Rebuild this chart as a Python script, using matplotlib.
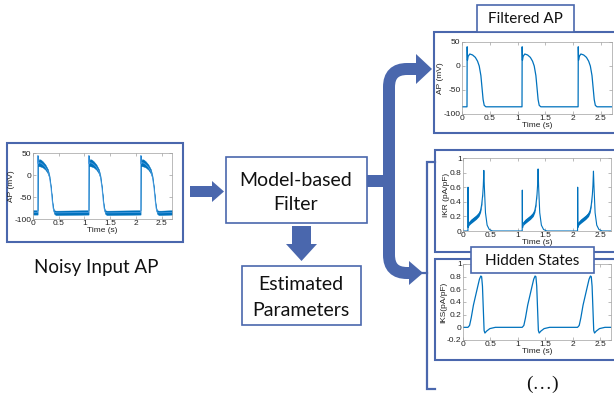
import matplotlib
matplotlib.use("Agg")
import matplotlib.pyplot as plt
from matplotlib.patches import Rectangle, Polygon, PathPatch
from matplotlib.path import Path

plt.rcParams['axes.unicode_minus'] = False

W, H = 614, 398
BLUE = '#4A67AD'
TRACE = '#0072BD'
TXT_FONT = ['Lato', 'DejaVu Sans']
PLOT_FONT = ['Liberation Sans', 'DejaVu Sans']
PFS = 6

# ---------------- data ----------------
beat_onsets = [0.09, 1.08, 2.09]
t_end = 2.7
x_ticks = [0, 0.5, 1, 1.5, 2, 2.5]
x_ticklabels = ['0', '0.5', '1', '1.5', '2', '2.5']

ap_rest = -85
ap_yticks = [-100, -50, 0, 50]

# filtered AP, one beat: time after onset (s), voltage (mV)
fap_dt = [0, 0.003, 0.008, 0.02, 0.05, 0.10, 0.15, 0.19, 0.22, 0.25, 0.27, 0.29, 0.31, 0.34, 0.40]
fap_v = [-85, 40, 12, 20, 25, 23, 18, 10, 0, -20, -45, -70, -82, -85, -85]

# noisy AP, one beat: centre of the trace and half-width of its noise band (mV)
nap_dt = [0, 0.003, 0.01, 0.03, 0.06, 0.10, 0.15, 0.20, 0.23, 0.26, 0.28, 0.30, 0.32, 0.35, 0.40]
nap_mid = [-85, 44, 26, 28, 27, 24, 18, 8, -5, -30, -55, -75, -84, -86, -86]
nap_hw = [5, 1, 6, 8, 8, 7, 6, 5, 4, 3, 3, 3, 4, 5, 5]
nap_rest_hw = 5

# IKR, one beat (pA/pF); spike and peak differ per beat
ikr_dt = [0, 0.002, 0.006, 0.015, 0.05, 0.10, 0.15, 0.20, 0.23, 0.25, 0.27, 0.28, 0.29, 0.30, 0.32, 0.35, 0.39, 0.45]
ikr_v = [0, None, 0.05, 0.10, 0.13, 0.16, 0.19, 0.23, 0.28, 0.36, 0.50, 0.62, None, 0.60, 0.25, 0.08, 0.02, 0]
ikr_hw = [0, 0, 0.01, 0.025, 0.03, 0.03, 0.03, 0.03, 0.025, 0.02, 0.01, 0.005, 0, 0, 0, 0, 0, 0]
ikr_spike = [0.60, 0.56, 0.60]
ikr_peak = [0.83, 0.85, 0.82]
ikr_yticks = [0, 0.2, 0.4, 0.6, 0.8, 1]
ikr_yticklabels = ['0', '0.2', '0.4', '0.6', '0.8', '1']

# IKS, one beat (pA/pF)
iks_dt = [0, 0.03, 0.06, 0.10, 0.14, 0.18, 0.21, 0.235, 0.25, 0.265, 0.28, 0.295, 0.31, 0.34, 0.40, 0.50]
iks_v = [0, 0.03, 0.15, 0.35, 0.50, 0.65, 0.76, 0.81, 0.80, 0.65, 0.30, -0.05, -0.09, -0.06, -0.02, 0]
iks_yticks = [-0.2, 0, 0.2, 0.4, 0.6, 0.8, 1]
iks_yticklabels = ['-0.2', '0', '0.2', '0.4', '0.6', '0.8', '1']


def build(dt, vals, rest):
    t, v = [0.0], [rest]
    for k, on in enumerate(beat_onsets):
        vv = vals[k] if isinstance(vals[0], list) else vals
        t += [on + d for d in dt]
        v += list(vv)
    t.append(t_end)
    v.append(rest)
    return t, v


# ---------------- figure ----------------
fig = plt.figure(figsize=(W / 100, H / 100), dpi=100)
bg = fig.add_axes([0, 0, 1, 1], zorder=0)
bg.set_xlim(0, W)
bg.set_ylim(H, 0)
bg.axis('off')
top = fig.add_axes([0, 0, 1, 1], zorder=3)
top.set_xlim(0, W)
top.set_ylim(H, 0)
top.axis('off')
top.patch.set_alpha(0)


def px_axes(x0, y0, x1, y1):
    return fig.add_axes([x0 / W, 1 - y1 / H, (x1 - x0) / W, (y1 - y0) / H], zorder=1)


def frame(ax, x0, y0, x1, y1, lw=1.5, z=1):
    ax.add_patch(Rectangle((x0, y0), x1 - x0, y1 - y0, facecolor='white',
                           edgecolor=BLUE, lw=lw, zorder=z))


def style(ax, ylim, yticks, yticklabels, ylabel):
    ax.set_xlim(0, t_end)
    ax.set_ylim(*ylim)
    ax.set_xticks(x_ticks)
    ax.set_xticklabels(x_ticklabels)
    ax.set_yticks(yticks)
    ax.set_yticklabels(yticklabels)
    ax.tick_params(direction='in', length=2, width=0.4, labelsize=PFS, pad=1,
                   top=True, right=True, color='#888888', labelcolor='#222222')
    for lab in ax.get_xticklabels() + ax.get_yticklabels():
        lab.set_family(PLOT_FONT)
    for s in ax.spines.values():
        s.set_color('#a0a0a0')
        s.set_linewidth(0.5)
    ax.set_xlabel('Time (s)', fontsize=PFS, labelpad=0, family=PLOT_FONT, color='#222222')
    ax.set_ylabel(ylabel, fontsize=PFS, labelpad=0, family=PLOT_FONT, color='#222222')


# panel frames
frame(bg, 7, 143, 183, 242)
frame(bg, 434, 32, 617, 133)
frame(bg, 435, 150, 617, 252)
frame(bg, 435, 259, 617, 360)

# noisy AP
ax = px_axes(33, 153, 172, 219)
t, mid = build(nap_dt, nap_mid, ap_rest)
_, hw = build(nap_hw, nap_hw, nap_rest_hw)
lo = [m - h for m, h in zip(mid, hw)]
hi = [m + h for m, h in zip(mid, hw)]
ax.fill_between(t, lo, hi, color=TRACE, lw=0.3)
ax.plot(t, mid, color='#4a9be0', lw=0.6)
style(ax, (-100, 50), ap_yticks, [str(v) for v in ap_yticks], 'AP (mV)')

# filtered AP
ax = px_axes(462, 42, 612, 114)
t, v = build(fap_dt, fap_v, ap_rest)
ax.plot(t, v, color=TRACE, lw=0.9)
style(ax, (-100, 50), ap_yticks, [str(v) for v in ap_yticks], 'AP (mV)')

# IKR
ax = px_axes(463, 158, 611, 231)
beats = []
for k in range(3):
    vv = list(ikr_v)
    vv[1] = ikr_spike[k]
    vv[12] = ikr_peak[k]
    beats.append(vv)
t, v = build(ikr_dt, beats, 0)
_, hw = build(ikr_dt, ikr_hw, 0)
ax.fill_between(t, [a - b for a, b in zip(v, hw)], [a + b for a, b in zip(v, hw)],
                color=TRACE, lw=0)
ax.plot(t, v, color=TRACE, lw=0.8)
style(ax, (0, 1), ikr_yticks, ikr_yticklabels, 'IKR (pA/pF)')

# IKS
ax = px_axes(463, 264, 611, 340)
t, v = build(iks_dt, iks_v, 0)
ax.plot(t, v, color=TRACE, lw=0.9)
style(ax, (-0.2, 1), iks_yticks, iks_yticklabels, 'IKS(pA/pF)')

# boxes and arrows
frame(bg, 226, 157, 367, 223, lw=1.2)
frame(bg, 242, 266, 361, 325, lw=1.2)
bg.add_patch(Polygon([(190, 186), (212, 186), (212, 181), (224, 191.5), (212, 202),
                      (212, 197), (190, 197)], closed=True, color=BLUE, lw=0))
bg.add_patch(Polygon([(292, 226), (311, 226), (311, 244), (317, 244), (301.5, 261),
                      (286, 244), (292, 244)], closed=True, color=BLUE, lw=0))

lw_big = 12 * 72 / 100
bg.plot([367, 392], [181, 181], color=BLUE, lw=lw_big, solid_capstyle='butt')
r = 18
xv = 389
verts = [(417, 69), (xv + r, 69), (xv, 69), (xv, 69 + r), (xv, 273 - r), (xv, 273),
         (xv + r, 273), (410, 273)]
codes = [Path.MOVETO, Path.LINETO, Path.CURVE3, Path.CURVE3, Path.LINETO, Path.CURVE3,
         Path.CURVE3, Path.LINETO]
bg.add_patch(PathPatch(Path(verts, codes), facecolor='none', edgecolor=BLUE, lw=lw_big,
                       capstyle='butt'))
bg.add_patch(Polygon([(416, 54), (432, 69), (416, 84)], closed=True, color=BLUE, lw=0))
bg.add_patch(Polygon([(409, 261), (423, 273), (409, 285)], closed=True, color=BLUE, lw=0))

# bracket
bg.plot([435, 427, 427, 435], [162, 162, 389, 389], color=BLUE, lw=1.6,
        solid_joinstyle='miter')
bg.plot([420, 427], [273, 273], color=BLUE, lw=1.6)

# title boxes on top
frame(top, 477, 5, 574, 32, lw=1.2, z=5)
frame(top, 471, 247, 594, 273, lw=1.2, z=5)

# texts
kw = dict(ha='center', va='center', family=TXT_FONT, color='#111111')
bg.text(96, 267, 'Noisy Input AP', fontsize=13.5, **kw)
bg.text(296, 180, 'Model-based', fontsize=14, **kw)
bg.text(296, 205, 'Filter', fontsize=14, **kw)
bg.text(301, 284, 'Estimated', fontsize=14, **kw)
bg.text(301, 310, 'Parameters', fontsize=14, **kw)
top.text(525, 19, 'Filtered AP', fontsize=11, zorder=6, **kw)
top.text(532, 261, 'Hidden States', fontsize=11, zorder=6, **kw)
top.text(542, 384, '(…)', fontsize=14, ha='center', va='center',
         family=['Liberation Serif', 'DejaVu Serif'], color='#111111')

fig.savefig('out.png', dpi=100)
